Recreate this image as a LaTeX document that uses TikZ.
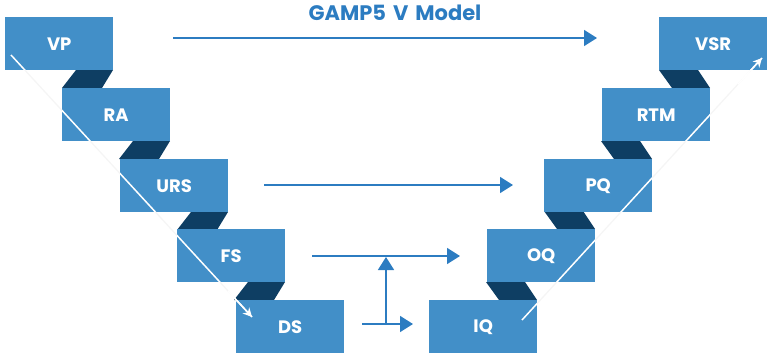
\documentclass[tikz,border=0pt]{standalone}
\usepackage{fontspec}
\setmainfont{Poppins}
\usetikzlibrary{arrows.meta,calc}
\definecolor{boxblue}{HTML}{428FC8}
\definecolor{darkblue}{HTML}{0E3E63}
\definecolor{arrblue}{HTML}{2C7CC1}
\tikzset{
  vbox/.style={fill=boxblue, draw=none, minimum width=108pt, minimum height=53pt, inner sep=0pt,
    text=white, font=\fontsize{18}{18}\selectfont\bfseries, anchor=north west},
  link/.style={fill=darkblue, draw=none},
  flow/.style={draw=arrblue, line width=1.6pt, -{Triangle[length=13pt,width=16pt]}},
  diag/.style={draw=white, line width=1.5pt},
  faint/.style={draw=black!4, line width=1.3pt}
}
\begin{document}
\begin{tikzpicture}[x=1pt,y=-1pt]
\useasboundingbox (0,0) rectangle (768,356);
% dark links (left)
\foreach \x/\y in {5/17,62/88,120/159,177/229}{
  \fill[darkblue] (\x+71,\y+53) -- (\x+108,\y+53) -- (\x+97,\y+71) -- (\x+57,\y+71) -- cycle;
}
% dark links (right)
\foreach \x/\y in {429/300,487/229,544/159,602/88}{
  \fill[darkblue] (\x+57,\y-18) -- (\x+96,\y-18) -- (\x+108,\y) -- (\x+70,\y) -- cycle;
}
% faint diagonals on background
\coordinate (ls) at (11,55);
\coordinate (le) at (252,317);
\coordinate (rs) at (522,320);
\coordinate (re) at (762,58);
\draw[faint] (ls) -- (le);
\draw[faint] (rs) -- (re);
% boxes
\node[vbox] (VP)  at (5,17)   {VP};
\node[vbox] (RA)  at (62,88)  {RA};
\node[vbox] (URS) at (120,159) {URS};
\node[vbox] (FS)  at (177,229) {FS};
\node[vbox] (DS)  at (236,300) {DS};
\node[vbox] (IQ)  at (429,300) {IQ};
\node[vbox] (OQ)  at (487,229) {OQ};
\node[vbox] (PQ)  at (544,159) {PQ};
\node[vbox] (RTM) at (602,88)  {RTM};
\node[vbox] (VSR) at (659,17)  {VSR};
% white diagonals inside boxes
\begin{scope}
\clip (VP.north west) rectangle (VP.south east) (RA.north west) rectangle (RA.south east)
      (URS.north west) rectangle (URS.south east) (FS.north west) rectangle (FS.south east)
      (DS.north west) rectangle (DS.south east) (IQ.north west) rectangle (IQ.south east)
      (OQ.north west) rectangle (OQ.south east) (PQ.north west) rectangle (PQ.south east)
      (RTM.north west) rectangle (RTM.south east) (VSR.north west) rectangle (VSR.south east);
\draw[diag] (ls) -- (le);
\draw[diag] (rs) -- (re);
\end{scope}
\draw[diag, -{Stealth[length=9pt,width=9pt]}] ($(ls)!0.9!(le)$) -- (le);
\draw[diag, -{Stealth[length=9pt,width=9pt]}] ($(rs)!0.9!(re)$) -- (re);
% title
\node[text=arrblue, font=\fontsize{21}{21}\selectfont\bfseries] (title) at (395,13) {GAMP5\,\,V\,\,Model};
% flow arrows
\coordinate (t1) at (173,38); \coordinate (t2) at (597,38);
\draw[flow] (t1) -- (t2);
\coordinate (u1) at (264,185); \coordinate (u2) at (513,185);
\draw[flow] (u1) -- (u2);
\coordinate (f1) at (312,256); \coordinate (f2) at (460,256);
\draw[flow] (f1) -- (f2);
\coordinate (d1) at (362,324); \coordinate (d2) at (413,324);
\draw[flow] (d1) -- (d2);
\coordinate (v1) at (386,324); \coordinate (v2) at (386,257);
\draw[flow] (v1) -- (v2);
\end{tikzpicture}
\end{document}
